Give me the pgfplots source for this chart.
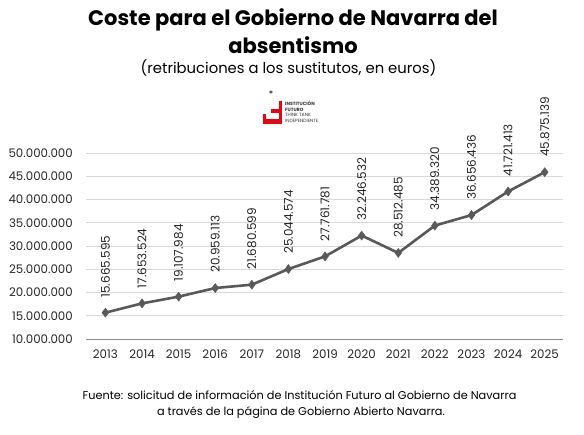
\documentclass[border=0pt]{standalone}
\usepackage{pgfplots}
\pgfplotsset{compat=1.18}
\usepackage{pgfplotstable}
\usepackage{fontspec}
\setmainfont{Poppins}
\definecolor{linegray}{HTML}{595959}
\definecolor{gridgray}{HTML}{D9D9D9}
\definecolor{axisgray}{HTML}{898989}
\definecolor{ifred}{HTML}{E30613}
\pgfplotstableread{
year value label
2013 15665595 15.665.595
2014 17653524 17.653.524
2015 19107984 19.107.984
2016 20959113 20.959.113
2017 21680599 21.680.599
2018 25044574 25.044.574
2019 27761781 27.761.781
2020 32246532 32.246.532
2021 28512485 28.512.485
2022 34389320 34.389.320
2023 36656436 36.656.436
2024 41721413 41.721.413
2025 45875139 45.875.139
}\datatable
\begin{document}
\begin{tikzpicture}[x=1pt,y=1pt]
\path[use as bounding box] (0,0) rectangle (584,434);
% titles
\node[font=\bfseries\fontsize{21}{24}\selectfont] at (293,414) {Coste para el Gobierno de Navarra del};
\node[font=\bfseries\fontsize{21}{24}\selectfont] at (293,389) {absentismo};
\node[font=\fontsize{14.8}{16}\selectfont] at (288.5,366) {(retribuciones a los sustitutos, en euros)};
% logo
\node[font=\fontsize{9}{9}\selectfont] at (271,340) {*};
\fill[ifred] (279,333) rectangle (282,310);
\fill[ifred] (271,325) rectangle (282,321);
\fill[ifred] (263,315) rectangle (282,310);
\fill[ifred] (263,320) rectangle (266,310);
\node[anchor=north west, align=left, inner sep=0pt, font=\fontsize{4.6}{5.6}\selectfont, text=black!80] at (285,333)
  {\textbf{INSTITUCIÓN}\\\textbf{FUTURO}\\THINK TANK\\INDEPENDIENTE};
% footer
\node[font=\fontsize{11.3}{12}\selectfont] at (299.5,39) {Fuente: solicitud de información de Institución Futuro al Gobierno de Navarra};
\node[font=\fontsize{11.3}{12}\selectfont] at (301,21) {a través de la página de Gobierno Abierto Navarra.};
\begin{axis}[
  at={(86pt,95pt)}, anchor=south west,
  scale only axis, width=477pt, height=186pt,
  xmin=2012.47, xmax=2025.5,
  ymin=10000000, ymax=50000000,
  xtick={2013,...,2025},
  xticklabels={2013,2014,2015,2016,2017,2018,2019,2020,2021,2022,2023,2024,2025},
  ytick={10000000,15000000,20000000,25000000,30000000,35000000,40000000,45000000,50000000},
  yticklabels={10.000.000,15.000.000,20.000.000,25.000.000,30.000.000,35.000.000,40.000.000,45.000.000,50.000.000},
  scaled y ticks=false,
  major tick length=0pt,
  tick style={draw=none},
  ymajorgrids,
  grid style={gridgray, line width=0.8pt},
  axis x line*=bottom,
  axis y line*=left,
  x axis line style={axisgray, line width=0.8pt, -},
  y axis line style={draw=none},
  ticklabel style={font=\fontsize{11.8}{12}\selectfont, text=black!85},
  yticklabel style={anchor=east, inner sep=0pt, xshift=-13pt},
  xticklabel style={anchor=north, inner sep=0pt, yshift=-11pt},
  clip=false,
]
\addplot[linegray, line width=2.6pt, mark=diamond*, mark size=4.5pt,
  mark options={solid, fill=linegray, line width=0.5pt},
  nodes near coords, point meta=explicit symbolic,
  every node near coord/.append style={font=\fontsize{12}{12}\selectfont, text=black!85, rotate=90, anchor=west, inner xsep=0pt, inner ysep=0pt, xshift=15pt}]
  table[x=year, y=value, meta=label]{\datatable};
\end{axis}
\end{tikzpicture}
\end{document}
